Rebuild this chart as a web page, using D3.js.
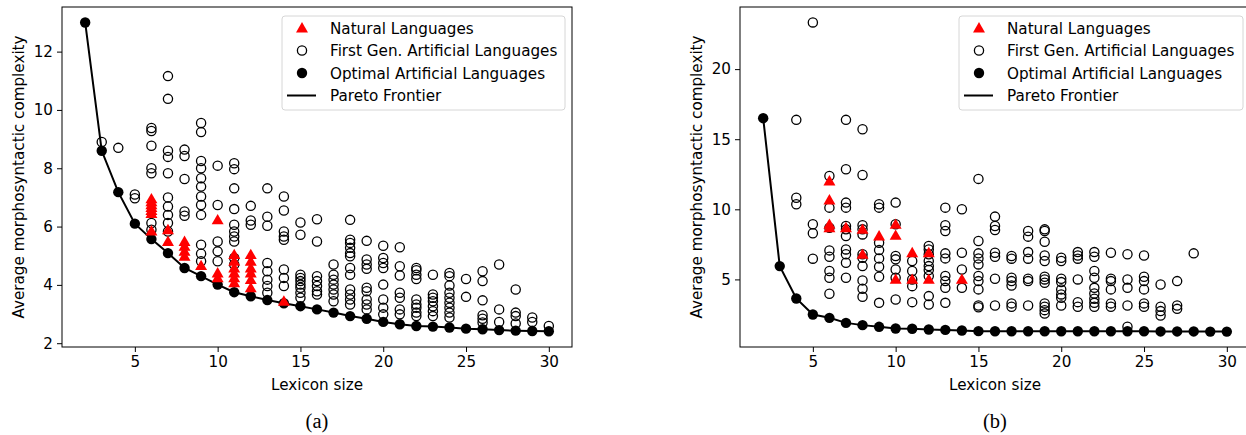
<!DOCTYPE html>
<html>
<head>
<meta charset="utf-8">
<script src="https://cdn.jsdelivr.net/npm/d3@7"></script>
<style>
  body { margin: 0; background: #fff; }
  svg text { font-family: "DejaVu Sans", sans-serif; }
</style>
</head>
<body>
<svg id="chart" width="1246" height="435"></svg>
<script>
// -- data: [lexicon size, [complexity values]] -- //
let leftNatural = [
    [6, [6.95, 6.85, 6.75, 6.65, 6.55, 6.45, 5.85]],
    [7, [5.89, 5.49]],
    [8, [5.49, 5.32, 5.15, 4.98]],
    [9, [4.66]],
    [10, [6.23, 4.41, 4.24]],
    [11, [5.04, 4.81, 4.58, 4.41, 4.24, 4.07]],
    [12, [5.04, 4.81, 4.58, 4.41, 4.18, 3.9]],
    [14, [3.44]]
];
let leftFirstGen = [
    [3, [8.9]],
    [4, [8.7]],
    [5, [7.1, 6.97]],
    [6, [9.38, 9.28, 8.77, 8.0, 7.83, 6.12, 5.89]],
    [7, [11.16, 10.38, 8.6, 8.39, 7.83, 7.0, 6.69, 6.4, 6.12, 5.83]],
    [8, [8.64, 8.42, 7.63, 6.52, 6.37]],
    [9, [9.55, 9.24, 8.25, 8.0, 7.66, 7.37, 7.03, 6.74, 6.4, 5.38, 5.07, 4.81]],
    [10, [8.09, 6.74, 5.49, 5.15, 4.81]],
    [11, [8.17, 7.97, 7.31, 6.6, 6.06, 5.83, 5.66, 5.49, 4.92, 4.7]],
    [12, [6.71, 6.21, 6.06]],
    [13, [7.31, 6.34, 6.03, 4.75, 4.47, 4.18, 3.96, 3.73]],
    [14, [7.03, 6.55, 5.83, 5.66, 5.55, 4.53, 4.24, 3.96]],
    [15, [6.14, 5.72, 4.35, 4.24, 4.13, 4.01, 3.9, 3.73, 3.56]],
    [16, [6.25, 5.49, 4.3, 4.13, 3.96, 3.78, 3.67]],
    [17, [4.7, 4.35, 4.18, 4.01, 3.84, 3.67, 3.44]],
    [18, [6.23, 5.55, 5.44, 5.27, 5.09, 4.98, 4.58, 4.35, 3.84, 3.67, 3.5, 3.33]],
    [19, [5.51, 4.87, 4.7, 4.55, 3.9, 3.78, 3.5, 3.33, 3.16]],
    [20, [5.34, 4.92, 4.75, 4.58, 4.01, 3.5, 3.22, 2.99]],
    [21, [5.29, 4.64, 4.32, 3.73, 3.56, 3.16, 2.99]],
    [22, [4.58, 4.5, 4.35, 4.2, 3.5, 3.33, 3.22, 3.05, 2.93]],
    [23, [4.35, 3.67, 3.56, 3.44, 3.27, 3.1, 2.93]],
    [24, [4.41, 4.3, 3.98, 3.73, 3.56, 3.39, 3.22, 3.05, 2.88]],
    [25, [4.2, 3.59]],
    [26, [4.47, 4.13, 3.47, 2.96, 2.84, 2.71]],
    [27, [4.7, 3.16, 2.73]],
    [28, [3.84, 3.05, 2.93, 2.68]],
    [29, [2.88, 2.73]],
    [30, [2.59]]
];
let leftSizes = [2, 3, 4, 5, 6, 7, 8, 9, 10, 11, 12, 13, 14, 15, 16, 17, 18, 19, 20, 21, 22, 23, 24, 25, 26, 27, 28, 29, 30];
let leftOptimal = [13.0, 8.6, 7.18, 6.1, 5.57, 5.09, 4.58, 4.3, 4.01, 3.75, 3.61, 3.48, 3.37, 3.27, 3.16, 3.05, 2.93, 2.84, 2.73, 2.65, 2.59, 2.57, 2.54, 2.5, 2.48, 2.45, 2.43, 2.42, 2.41];

let rightNatural = [
    [6, [12.02, 10.67, 8.93, 8.69]],
    [7, [8.69]],
    [8, [8.57, 6.79]],
    [9, [8.1]],
    [10, [8.93, 8.14, 5.0]],
    [11, [6.9, 5.0]],
    [12, [6.9, 5.0]],
    [14, [5.0]]
];
let rightFirstGen = [
    [4, [16.38, 10.83, 10.36]],
    [5, [23.33, 8.93, 8.29, 6.48]],
    [6, [12.38, 10.12, 8.69, 7.07, 6.62, 5.6, 5.12, 3.98]],
    [7, [16.38, 12.86, 10.48, 10.12, 8.81, 8.57, 8.1, 7.14, 6.79, 6.19, 5.12]],
    [8, [15.71, 12.45, 8.86, 8.57, 8.21, 6.79, 6.55, 5.95, 4.93, 4.33, 3.76]],
    [9, [10.36, 10.12, 7.62, 7.09, 6.5, 5.9, 5.19, 3.33]],
    [10, [10.48, 8.93, 6.67, 6.43, 5.71, 5.12, 3.57]],
    [11, [6.31, 5.6, 5.0, 4.52, 3.38]],
    [12, [7.38, 7.14, 6.79, 6.31, 5.95, 5.67, 5.24, 3.81, 3.21]],
    [13, [10.12, 8.86, 8.45, 6.86, 6.5, 5.24, 4.88, 4.4, 3.33]],
    [14, [10.0, 6.9, 5.71, 4.4]],
    [15, [12.17, 7.74, 6.86, 6.5, 6.07, 5.24, 4.88, 4.29, 3.14, 3.02]],
    [16, [9.48, 8.81, 8.52, 6.9, 6.62, 5.05, 3.14]],
    [17, [6.67, 6.48, 5.12, 4.88, 4.57, 3.29, 3.05]],
    [18, [8.45, 8.05, 6.95, 6.48, 5.05, 4.88, 3.14]],
    [19, [8.57, 8.45, 7.69, 6.71, 6.31, 5.19, 5.0, 4.76, 3.29, 3.05, 2.81, 2.57]],
    [20, [6.55, 6.31, 5.05, 4.81, 4.29, 3.93, 3.69, 3.14]],
    [21, [6.95, 6.71, 6.48, 5.0, 3.38, 3.05]],
    [22, [6.95, 6.62, 5.6, 5.12, 4.4, 4.0, 3.62, 3.33, 3.05]],
    [23, [6.9, 5.05, 4.88, 4.29, 3.29, 3.05]],
    [24, [6.79, 5.0, 4.4, 3.14, 1.62]],
    [25, [6.71, 5.19, 4.88, 4.29, 3.29, 3.05]],
    [26, [4.64, 3.05, 2.74, 2.43]],
    [27, [4.88, 3.14, 2.9]],
    [28, [6.86]]
];
let rightSizes = leftSizes;
let rightOptimal = [16.5, 5.95, 3.64, 2.5, 2.26, 1.9, 1.74, 1.62, 1.5, 1.48, 1.43, 1.4, 1.36, 1.31, 1.3, 1.3, 1.3, 1.3, 1.3, 1.3, 1.3, 1.3, 1.3, 1.3, 1.29, 1.29, 1.29, 1.28, 1.28];

let xTicks = [5, 10, 15, 20, 25, 30];
let leftYTicks = [2, 4, 6, 8, 10, 12];
let rightYTicks = [5, 10, 15, 20];
let legendLabels = ["Natural Languages", "First Gen. Artificial Languages", "Optimal Artificial Languages", "Pareto Frontier"];

let flatten = groups => groups.flatMap(g => g[1].map(v => ({x: g[0], y: v})));

let svg = d3.select("#chart");
let triangle = d3.symbol().type(d3.symbolTriangle).size(62);
let fontSize = "15.2px";

let drawPanel = (panel) => {
    let g = svg.append("g");
    let xScale = d3.scaleLinear().domain([0.6, 31.4]).range([panel.left, panel.right]);
    let yScale = d3.scaleLinear().domain(panel.yDomain).range([347, 7]);

    // -- frame -- //
    g.append("rect")
        .attr("x", panel.left).attr("y", 7)
        .attr("width", panel.right - panel.left).attr("height", 340)
        .style("fill", "none").style("stroke", "black").style("stroke-width", 1);

    // -- axes -- //
    let xAxis = d3.axisBottom(xScale).tickValues(xTicks).tickSize(5).tickPadding(4);
    let yAxis = d3.axisLeft(yScale).tickValues(panel.yTicks).tickSize(5).tickPadding(4);
    g.append("g").attr("transform", "translate(0, 347)").call(xAxis)
        .call(a => a.select(".domain").remove())
        .selectAll("text").style("font-size", fontSize).style("fill", "#000");
    g.append("g").attr("transform", `translate(${panel.left}, 0)`).call(yAxis)
        .call(a => a.select(".domain").remove())
        .selectAll("text").style("font-size", fontSize).style("fill", "#000");

    // -- axis labels -- //
    g.append("text")
        .attr("x", (panel.left + panel.right) / 2).attr("y", 390)
        .attr("text-anchor", "middle").style("font-size", fontSize)
        .text("Lexicon size");
    g.append("text")
        .attr("transform", `translate(${panel.left - 38}, 177) rotate(-90)`)
        .attr("text-anchor", "middle").style("font-size", fontSize)
        .text("Average morphosyntactic complexity");
    g.append("text")
        .attr("x", (panel.left + panel.right) / 2).attr("y", 428)
        .attr("text-anchor", "middle")
        .style("font-family", "'Liberation Serif', serif").style("font-size", "20.5px")
        .text(panel.caption);

    let plot = g.append("g");

    // -- first generation languages -- //
    plot.selectAll(".firstgen")
        .data(flatten(panel.firstGen))
        .enter()
        .append("circle")
        .attr("cx", d => xScale(d.x))
        .attr("cy", d => yScale(d.y))
        .attr("r", 4.6)
        .style("fill", "none").style("stroke", "black").style("stroke-width", 1.3);

    // -- pareto frontier + optimal languages -- //
    let optimal = panel.sizes.map((s, i) => ({x: s, y: panel.optimal[i]}));
    plot.append("path")
        .datum(optimal)
        .attr("d", d3.line().x(d => xScale(d.x)).y(d => yScale(d.y)))
        .style("fill", "none").style("stroke", "black").style("stroke-width", 2);
    plot.selectAll(".optimal")
        .data(optimal)
        .enter()
        .append("circle")
        .attr("cx", d => xScale(d.x))
        .attr("cy", d => yScale(d.y))
        .attr("r", 5.2)
        .style("fill", "black");

    // -- natural languages -- //
    plot.selectAll(".natural")
        .data(flatten(panel.natural))
        .enter()
        .append("path")
        .attr("d", triangle)
        .attr("transform", d => `translate(${xScale(d.x)}, ${yScale(d.y) + 1})`)
        .style("fill", "red");

    // -- legend -- //
    let lg = g.append("g");
    lg.append("rect")
        .attr("x", panel.legendX).attr("y", 16)
        .attr("width", panel.right - 7 - panel.legendX).attr("height", 94)
        .attr("rx", 3)
        .style("fill", "white").style("fill-opacity", 0.8)
        .style("stroke", "#d6d6d6").style("stroke-width", 1);
    let rows = [28, 50.5, 73, 95.5];
    let mx = panel.legendX + 20;
    lg.append("path").attr("d", triangle).attr("transform", `translate(${mx}, ${rows[0] + 1})`).style("fill", "red");
    lg.append("circle").attr("cx", mx).attr("cy", rows[1]).attr("r", 4.6)
        .style("fill", "none").style("stroke", "black").style("stroke-width", 1.3);
    lg.append("circle").attr("cx", mx).attr("cy", rows[2]).attr("r", 5.2).style("fill", "black");
    lg.append("line").attr("x1", mx - 15).attr("x2", mx + 14).attr("y1", rows[3]).attr("y2", rows[3])
        .style("stroke", "black").style("stroke-width", 2);
    lg.selectAll(".lbl")
        .data(legendLabels)
        .enter()
        .append("text")
        .attr("x", mx + 28)
        .attr("y", (d, i) => rows[i] + 5.5)
        .style("font-size", fontSize)
        .text(d => d);
};

drawPanel({left: 62, right: 572, yDomain: [1.87, 13.53], yTicks: leftYTicks, caption: "(a)",
    natural: leftNatural, firstGen: leftFirstGen, sizes: leftSizes, optimal: leftOptimal, legendX: 282});
drawPanel({left: 740, right: 1250, yDomain: [0.18, 24.43], yTicks: rightYTicks, caption: "(b)",
    natural: rightNatural, firstGen: rightFirstGen, sizes: rightSizes, optimal: rightOptimal, legendX: 959});
</script>
</body>
</html>
